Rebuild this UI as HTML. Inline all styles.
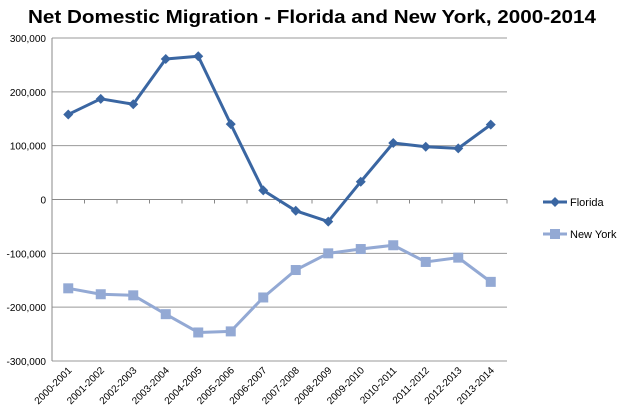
<!DOCTYPE html>
<html><head><meta charset="utf-8"><style>
body{margin:0;background:#fff;}
svg{display:block;font-family:"Liberation Sans",sans-serif;}
</style></head><body>
<svg id="chart" width="620" height="416" viewBox="0 0 620 416">
<text x="312" y="23" text-anchor="middle" font-size="18" font-weight="bold" textLength="568" lengthAdjust="spacingAndGlyphs">Net Domestic Migration - Florida and New York, 2000-2014</text>
<g id="grid"></g><g id="axes"></g><g id="series"></g>
<g>
<g>
<line x1="543" y1="202" x2="567" y2="202" stroke="#3a66a2" stroke-width="3"/>
<path d="M555 197 L560 202 L555 207 L550 202Z" fill="#3a66a2"/>
<text x="570" y="206" font-size="11" fill="#000">Florida</text></g>
<g>
<line x1="543" y1="234" x2="567" y2="234" stroke="#93a9d4" stroke-width="3"/>
<rect x="550" y="229" width="10" height="10" fill="#93a9d4"/>
<text x="570" y="238" font-size="11" fill="#000">New York</text></g>
</g>
</svg>
<script>
const categories=["2000-2001","2001-2002","2002-2003","2003-2004","2004-2005","2005-2006","2006-2007","2007-2008","2008-2009","2009-2010","2010-2011","2011-2012","2012-2013","2013-2014"];
const florida=[158000,187000,177000,261000,266000,140000,17000,-21000,-41000,33000,105000,98000,95000,139000];
const newYork=[-165000,-176000,-178000,-213000,-247000,-245000,-182000,-131000,-100000,-92000,-85000,-116000,-108000,-153000];
const yTicks=[300000,200000,100000,0,-100000,-200000,-300000];
const yTickLabels=["300,000","200,000","100,000","0","-100,000","-200,000","-300,000"];
const NS="http://www.w3.org/2000/svg";
const L=52,R=507,T=38,B=361;
const y=v=>T+(300000-v)/600000*(B-T);
const bw=(R-L)/categories.length;
const x=i=>L+bw*(i+0.5);
function mk(t,a,p){const e=document.createElementNS(NS,t);for(const k in a)e.setAttribute(k,a[k]);p.appendChild(e);return e;}
const grid=document.getElementById('grid'),axes=document.getElementById('axes'),ser=document.getElementById('series');
yTicks.forEach((v,i)=>{
 const g=mk('line',{x1:L,x2:R,y1:y(v),y2:y(v),stroke:v===0?'#888':'#999','stroke-width':1},grid);
 
 
 const t=mk('text',{x:L-6,y:y(v)+4,'text-anchor':'end','font-size':10,fill:'#000'},axes);
 t.textContent=yTickLabels[i];
 
 
});
const ya=mk('line',{x1:L,x2:L,y1:T,y2:B,stroke:'#888'},axes);


for(let i=0;i<=categories.length;i++){
 const tk=mk('line',{x1:L+bw*i,x2:L+bw*i,y1:y(0),y2:y(0)+4,stroke:'#888'},axes);
 
 
}
categories.forEach((c,i)=>{
 const t=mk('text',{x:x(i)+4,y:B+10,'text-anchor':'end','font-size':10,fill:'#000',transform:`rotate(-45 ${x(i)+4} ${B+10})`},axes);
 t.textContent=c;
 
 
});
function drawLine(data,color,shape,name){
 const g=mk('g',{},ser);
 
 
 const pl=mk('polyline',{points:data.map((v,i)=>x(i)+','+y(v)).join(' '),fill:'none',stroke:color,'stroke-width':3,'stroke-linejoin':'round'},g);
 
 
 data.forEach((v,i)=>{
  const cx=x(i),cy=y(v);let m;
  if(shape==='d')m=mk('path',{d:`M${cx} ${cy-5}L${cx+5} ${cy}L${cx} ${cy+5}L${cx-5} ${cy}Z`,fill:color},g);
  else m=mk('rect',{x:cx-5,y:cy-5,width:10,height:10,fill:color},g);
  
  
 });
}
drawLine(newYork,'#93a9d4','s','new-york');
drawLine(florida,'#3a66a2','d','florida');
</script>
</body></html>
